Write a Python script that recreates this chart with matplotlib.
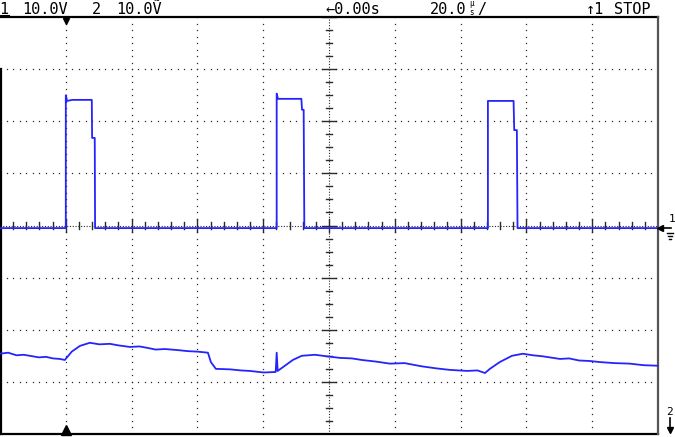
import matplotlib
matplotlib.use("Agg")
import matplotlib.pyplot as plt
import numpy as np

W, H = 675, 437

# scope settings
TDIV = 20.0          # us / div
T_LEFT = -20.0       # trigger sits 1 div from the left edge
CH1_VDIV = 10.0
CH2_VDIV = 10.0
CH1_POS = -0.05      # ground level of ch1, div
CH2_POS = -4.5       # ground level of ch2 (below screen), div

# channel 1 (us, V)
ch1_t = [-20.0, 0.0, 0.0, 0.4, 2.0, 7.9, 8.0, 8.8, 8.9,
         64.1, 64.1, 64.5, 71.6, 71.8, 72.3, 72.5,
         128.3, 128.3, 136.1, 136.3, 137.1, 137.3, 180.0]
ch1_v = [0.0, 0.0, 25.5, 24.4, 24.6, 24.6, 17.3, 17.3, 0.0,
         0.0, 25.8, 24.8, 24.8, 22.7, 22.7, 0.0,
         0.0, 24.4, 24.4, 18.8, 18.8, 0.0, 0.0]

# channel 2 (us, V)
ch2_t = [-20.0, -17.5, -15.0, -12.8, -10.9, -8.2, -6.0, -3.9, -1.8, -0.3, 1.8, 4.3,
         7.3, 10.2, 13.4, 16.0, 19.5, 22.4, 25.0, 27.3, 30.1, 34.0, 37.0, 40.1,
         43.2, 44.1, 45.6, 50.0, 53.1, 55.9, 60.2, 63.8, 64.1, 64.4, 66.6, 69.0,
         71.7, 75.7, 79.4, 83.3, 87.0, 90.0, 94.2, 98.5, 103.0, 108.0, 112.5, 116.7,
         122.0, 125.1, 127.4, 128.9, 131.9, 135.6, 138.9, 142.0, 145.0, 150.2, 153.0,
         156.0, 159.4, 162.3, 166.8, 171.4, 175.6, 179.9]
ch2_v = [20.4, 20.6, 20.1, 20.2, 20.0, 19.7, 19.8, 19.5, 19.4, 19.2, 20.8, 21.9,
         22.5, 22.2, 22.3, 22.0, 21.7, 21.8, 21.5, 21.2, 21.3, 21.1, 20.9, 20.8,
         20.6, 18.8, 17.5, 17.4, 17.2, 17.1, 16.8, 16.9, 20.6, 17.1, 18.1, 19.2,
         20.0, 20.2, 19.9, 19.6, 19.5, 19.2, 18.9, 18.5, 18.6, 18.0, 17.6, 17.3,
         17.1, 17.2, 16.7, 17.5, 18.8, 20.0, 20.4, 20.1, 19.9, 19.4, 19.5,
         19.1, 19.0, 18.8, 18.6, 18.5, 18.2, 18.1]

TRACE = "#2424ff"
GRID = "#2a2a2a"


def px(x, y):
    return x / W, 1 - y / H


fig = plt.figure(figsize=(W / 100, H / 100), dpi=100)
fig.patch.set_facecolor("white")
ax = fig.add_axes([0, 3 / H, 658 / W, 417 / H])
ax.set_xlim(T_LEFT, T_LEFT + 10 * TDIV)
ax.set_ylim(-4, 4)
ax.axis("off")

x_lo, x_hi = T_LEFT, T_LEFT + 10 * TDIV
us_px = TDIV / 65.8
div_px = 1 / 52.1

# dotted graticule
for i in range(1, 10):
    if i == 5:
        continue
    xg = T_LEFT + i * TDIV
    ys = np.arange(-4, 4.001, 0.125)
    ax.plot(np.full_like(ys, xg), ys, ls="none", marker="s", ms=0.9, color=GRID, mew=0)
for j in [-3, -2, -1, 1, 2, 3]:
    xs = np.arange(x_lo, x_hi + 0.01, TDIV / 10)
    ax.plot(xs, np.full_like(xs, j), ls="none", marker="s", ms=0.9, color=GRID, mew=0)

# center axes with ticks
xc = T_LEFT + 5 * TDIV
ax.plot([xc, xc], [-4, 4], color=GRID, lw=0.8, ls=(0, (1, 1.5)))
ax.plot([x_lo, x_hi], [0, 0], color=GRID, lw=0.8, ls=(0, (1, 1.5)))
for yt in np.arange(-4, 4.001, 0.25):
    half = 7 if abs(yt - round(yt)) < 1e-6 else 3
    ax.plot([xc - half * us_px, xc + half * us_px], [yt, yt], color=GRID, lw=1.0)
for xt in np.arange(x_lo, x_hi + 0.01, TDIV / 5):
    k = (xt - x_lo) / TDIV
    half = 6 if abs(k - round(k)) < 1e-6 else 3
    ax.plot([xt, xt], [-half * div_px, half * div_px], color=GRID, lw=1.0)

# border
ax.plot([x_lo, x_hi], [4, 4], color="black", lw=1.6, clip_on=False)
ax.plot([x_lo, x_hi], [-4, -4], color="black", lw=1.6, clip_on=False)
ax.plot([x_hi, x_hi], [-4, 4], color="#555555", lw=1.6, clip_on=False)
ax.plot([x_lo + 0.3, x_lo + 0.3], [-4, 3], color="black", lw=1.6, clip_on=False)

# traces
ax.plot(ch1_t, np.array(ch1_v) / CH1_VDIV + CH1_POS, color=TRACE, lw=1.3, clip_on=False)
ax.plot(ch2_t, np.array(ch2_v) / CH2_VDIV + CH2_POS, color=TRACE, lw=1.3, clip_on=False)

# trigger position markers
ax.plot([0], [4 - 4 * div_px], marker="v", ms=5, color="black", clip_on=False)
ax.plot([0], [-4 + 4 * div_px], marker="^", ms=7, color="black", clip_on=False)

# header text
font = dict(family="DejaVu Sans Mono", fontsize=11, color="black", va="baseline")
small = dict(family="DejaVu Sans Mono", fontsize=5.5, color="black", va="baseline")
fig.text(*px(-1, 14), "1", **font)
fig.text(*px(22, 14), "10.0V", **font)
fig.text(*px(92, 14), "2", **font)
fig.text(*px(116, 14), "10.0\u1e7c", **font)
fig.text(*px(326, 14), "\u21900.00s", **font)
fig.text(*px(430, 14), "20.0", **font)
fig.text(*px(469, 6), "\u00b5", **small)
fig.text(*px(469, 15), "s", **small)
fig.text(*px(477, 14), "/", **font)
fig.text(*px(586, 14), "\u21911", **font)
fig.text(*px(614, 14), "STOP", **font)
fig.add_artist(plt.Line2D([0, 9 / W], [1 - 16 / H, 1 - 16 / H], color="black", lw=1.5))

# channel reference markers on the right
fig.text(*px(669, 222), "1", family="DejaVu Sans Mono", fontsize=8, va="baseline")
fig.add_artist(plt.Line2D([661 / W, 671 / W], [1 - 228 / H] * 2, color="black", lw=1.2))
fig.add_artist(plt.Line2D([660 / W], [1 - 228 / H], marker="<", ms=4, color="black"))
fig.add_artist(plt.Line2D([667 / W, 673 / W], [1 - 233 / H] * 2, color="black", lw=1))
fig.add_artist(plt.Line2D([668 / W, 672 / W], [1 - 236 / H] * 2, color="black", lw=1))
fig.add_artist(plt.Line2D([669 / W, 671 / W], [1 - 239 / H] * 2, color="black", lw=1))
fig.text(*px(666, 415), "2", family="DejaVu Sans Mono", fontsize=8, va="baseline")
fig.add_artist(plt.Line2D([670 / W, 670 / W], [1 - 418 / H, 1 - 428 / H], color="black", lw=1.2))
fig.add_artist(plt.Line2D([670 / W], [1 - 430 / H], marker="v", ms=4, color="black"))

fig.savefig("out.png", dpi=100, facecolor="white")
